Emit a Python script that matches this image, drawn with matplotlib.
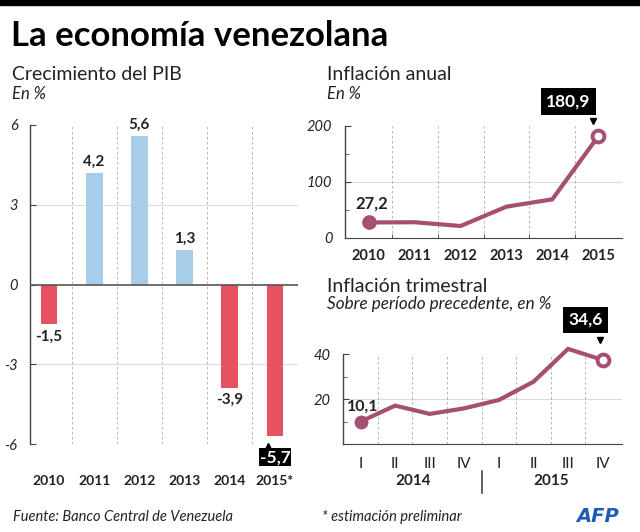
import matplotlib
matplotlib.use("Agg")
import matplotlib.pyplot as plt
import matplotlib.transforms as mtransforms
from matplotlib.patches import Rectangle

# ==============================
# DATOS
# ==============================
pib_years = ['2010', '2011', '2012', '2013', '2014', '2015*']
pib_values = [-1.5, 4.2, 5.6, 1.3, -3.9, -5.7]
pib_labels = ['-1,5', '4,2', '5,6', '1,3', '-3,9', '-5,7']

anual_years = ['2010', '2011', '2012', '2013', '2014', '2015']
anual_values = [27.2, 27.6, 20.9, 55.4, 68.5, 180.9]

trim_quarters = ['I', 'II', 'III', 'IV', 'I', 'II', 'III', 'IV']
trim_years = ['2014', '2015']
trim_values = [10.1, 17.2, 13.5, 16.0, 19.7, 27.8, 42.4, 37.5]

# ==============================
# ESTILO
# ==============================
plt.rcParams['font.family'] = ['Lato', 'DejaVu Sans']
BLUE = '#a7cde8'
RED = '#e6525f'
PLUM = '#a64f73'
DARK = '#222222'
GREY = '#444444'

W, H = 640, 532
fig = plt.figure(figsize=(W / 100, H / 100), dpi=100)


def box(left, top, right, bottom):
    """Convertir una caja en pixeles a coordenadas de figura."""
    return [left / W, 1 - bottom / H, (right - left) / W, (bottom - top) / H]


def ftext(x, y, s, **kw):
    fig.text(x / W, 1 - y / H, s, **kw)


def style_axis(ax):
    for side in ['top', 'right']:
        ax.spines[side].set_visible(False)
    ax.spines['left'].set_color(GREY)
    ax.spines['left'].set_linewidth(1.0)
    ax.tick_params(axis='y', which='both', direction='in', colors=GREY,
                   labelcolor=DARK, labelsize=10.5, pad=9)
    ax.tick_params(axis='y', which='major', length=4)
    ax.tick_params(axis='y', which='minor', length=3)
    for lab in ax.get_yticklabels():
        lab.set_fontstyle('italic')


def callout(ax, x, y, text, dx, dy, px, py, marker, pad):
    """Etiqueta negra con pequeño puntero."""
    ax.annotate(text, (x, y), xytext=(dx, dy), textcoords='offset pixels',
                ha='center', va='center', color='white', fontsize=12.5,
                fontweight='bold', annotation_clip=False, zorder=6,
                bbox=dict(boxstyle='square,pad=%s' % pad, fc='black', ec='none'))
    tr = mtransforms.offset_copy(ax.transData, fig=fig, x=px, y=py, units='dots')
    ax.plot([x], [y], marker=marker, color='black', markersize=5,
            transform=tr, clip_on=False, zorder=6)


# barra negra superior
fig.patches.append(Rectangle((0, 1 - 5 / H), 1, 5 / H, transform=fig.transFigure,
                             color='black', zorder=10))

ftext(11, 46, 'La economía venezolana', fontsize=25, fontweight='bold',
      color='black', va='baseline')

# ==============================
# CRECIMIENTO DEL PIB
# ==============================
ftext(12, 80, 'Crecimiento del PIB', fontsize=14, color=DARK, va='baseline')
ftext(12, 99, 'En %', fontsize=12, style='italic', color=DARK, va='baseline')

ax1 = fig.add_axes(box(30, 125, 298, 444))
xs = range(len(pib_values))
colors = [BLUE if v > 0 else RED for v in pib_values]
ax1.bar(xs, pib_values, width=0.37, color=colors, zorder=3)
ax1.set_xlim(-0.42, 5.51)
ax1.set_ylim(-6, 6)
ax1.set_yticks([-6, -3, 0, 3, 6])
ax1.set_yticklabels(['-6', '-3', '0', '3', '6'])
for yv in [-3, 3]:
    ax1.axhline(yv, color='#dddddd', lw=0.8, zorder=1)
ax1.axhline(0, color='#555555', lw=1.2, zorder=4)
for i in range(len(pib_values) - 1):
    ax1.plot([i + 0.5, i + 0.5], [-6, 6], color='#aaaaaa', lw=0.6,
             ls=(0, (3, 3)), zorder=1)
ax1.spines['bottom'].set_visible(False)
ax1.set_xticks(list(xs))
ax1.set_xticklabels(pib_years, fontsize=10, fontweight='bold', color=DARK)
ax1.tick_params(axis='x', length=0, pad=22)
style_axis(ax1)

for i, (v, lab) in enumerate(zip(pib_values, pib_labels)):
    if i == len(pib_values) - 1:
        continue
    if v > 0:
        ax1.annotate(lab, (i, v), xytext=(0, 7), textcoords='offset pixels',
                     ha='center', va='baseline', fontsize=11,
                     fontweight='bold', color=DARK)
    else:
        ax1.annotate(lab, (i, v), xytext=(0, -5), textcoords='offset pixels',
                     ha='center', va='top', fontsize=11,
                     fontweight='bold', color=DARK)
callout(ax1, 5, pib_values[-1], pib_labels[-1], 0, -21, -7, -10, '^', 0.05)

# ==============================
# INFLACION ANUAL
# ==============================
ftext(327, 80, 'Inflación anual', fontsize=14, color=DARK, va='baseline')
ftext(327, 99, 'En %', fontsize=12, style='italic', color=DARK, va='baseline')

ax2 = fig.add_axes(box(345, 125.7, 622, 237.7))
xa = range(len(anual_values))
ax2.plot(xa, anual_values, color=PLUM, lw=3, solid_joinstyle='miter',
         zorder=3, clip_on=False)
ax2.plot([0], [anual_values[0]], 'o', color=PLUM, markersize=9.5, zorder=4)
ax2.plot([5], [anual_values[-1]], 'o', mfc='white', mec=PLUM, mew=2.8,
         markersize=8.5, zorder=5, clip_on=False)
ax2.set_xlim(-0.52, 5.52)
ax2.set_ylim(0, 200)
ax2.set_yticks([0, 100, 200])
ax2.set_yticks([50, 150], minor=True)
ax2.axhline(100, color='#dddddd', lw=0.8, zorder=1)
for i in range(len(anual_values) - 1):
    ax2.plot([i + 0.5, i + 0.5], [0, 200], color='#aaaaaa', lw=0.6,
             ls=(0, (3, 3)), zorder=1)
ax2.spines['bottom'].set_color(GREY)
ax2.set_xticks(list(xa))
ax2.set_xticklabels(anual_years, fontsize=10.5, fontweight='bold', color=DARK)
ax2.set_xticks([i + 0.5 for i in range(5)], minor=True)
ax2.tick_params(axis='x', which='major', length=0, pad=8)
ax2.tick_params(axis='x', which='minor', direction='in', length=3, color=GREY)
style_axis(ax2)
ax2.annotate('27,2', (0, anual_values[0]), xytext=(3, 14), textcoords='offset pixels',
             ha='center', va='baseline', fontsize=12, fontweight='bold', color=DARK)
callout(ax2, 5, anual_values[-1], '180,9', -30, 35, -5, 15, 'v', 0.3)

# ==============================
# INFLACION TRIMESTRAL
# ==============================
ftext(327, 292, 'Inflación trimestral', fontsize=14, color=DARK, va='baseline')
ftext(327, 309, 'Sobre período precedente, en %', fontsize=12.3, style='italic',
      color=DARK, va='baseline')

ax3 = fig.add_axes(box(343, 354.3, 622, 444.3))
xt = range(len(trim_values))
ax3.plot(xt, trim_values, color=PLUM, lw=3, solid_joinstyle='miter',
         zorder=3, clip_on=False)
ax3.plot([0], [trim_values[0]], 'o', color=PLUM, markersize=9, zorder=4)
ax3.plot([7], [trim_values[-1]], 'o', mfc='white', mec=PLUM, mew=2.8,
         markersize=8.5, zorder=5, clip_on=False)
ax3.set_xlim(-0.51, 7.56)
ax3.set_ylim(0, 40)
ax3.set_yticks([20, 40])
ax3.set_yticks([10, 30], minor=True)
ax3.axhline(20, color='#dddddd', lw=0.8, zorder=1)
for i in range(len(trim_values) - 1):
    ax3.plot([i + 0.5, i + 0.5], [0, 40], color='#aaaaaa', lw=0.6,
             ls=(0, (3, 3)), zorder=1)
ax3.spines['bottom'].set_color(GREY)
ax3.set_xticks(list(xt))
ax3.set_xticklabels(trim_quarters, fontsize=11, color=DARK)
ax3.tick_params(axis='x', which='major', length=0, pad=9)
style_axis(ax3)
ax3.annotate('10,1', (0, trim_values[0]), xytext=(2, 11), textcoords='offset pixels',
             ha='center', va='baseline', fontsize=11.5, fontweight='bold', color=DARK)
callout(ax3, 7, trim_values[-1], '34,6', -17, 40, -3, 20, 'v', 0.3)

ftext(413, 481, trim_years[0], fontsize=11, fontweight='bold', color=DARK,
      ha='center', va='center')
ftext(551, 481, trim_years[1], fontsize=11, fontweight='bold', color=DARK,
      ha='center', va='center')
fig.add_artist(plt.Line2D([482 / W, 482 / W], [1 - 471 / H, 1 - 493 / H],
                          color=GREY, lw=1.2))

# ==============================
# PIE
# ==============================
ftext(13, 521, 'Fuente: Banco Central de Venezuela', fontsize=10.5, style='italic',
      color=DARK, va='baseline')
ftext(322, 521, '* estimación preliminar', fontsize=10.5, style='italic',
      color=DARK, va='baseline')
ftext(619, 516, 'AFP', fontsize=14, fontweight='heavy', style='italic',
      color='#1d5bb5', ha='right', va='center', family='DejaVu Sans')

fig.savefig('out.png', dpi=100, facecolor='white')
